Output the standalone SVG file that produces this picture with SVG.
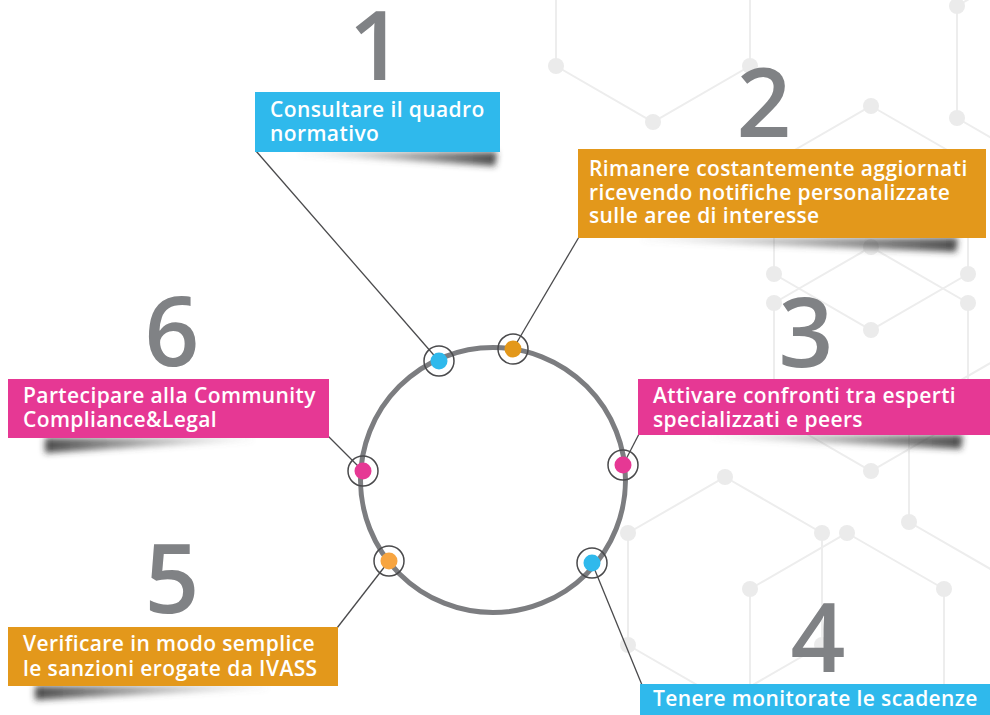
<svg xmlns="http://www.w3.org/2000/svg" width="990" height="715" viewBox="0 0 990 715">
<defs>
<style>
.hex{fill:none;stroke:#ededed;stroke-width:2}
.hd{fill:#ebebeb}
.lbl{font-family:"Open Sans","Liberation Sans",sans-serif;font-size:21px;font-weight:600;fill:#ffffff;letter-spacing:0.4px}
.num{font-family:"Open Sans","Liberation Sans",sans-serif;font-size:96px;font-weight:600;fill:#808285;text-anchor:middle}
.con{stroke:#4a4a4c;stroke-width:1.3;fill:none}
.ring{fill:none;stroke:#4a4a4c;stroke-width:1.5}
.blue{fill:#2fb9ec}
.orange{fill:#e3981b}
.pink{fill:#e63894}
.shadow{filter:url(#blur)}
</style>
<filter id="blur" x="-10%" y="-150%" width="120%" height="400%"><feGaussianBlur stdDeviation="3"/></filter>
<linearGradient id="shR" x1="0" y1="0" x2="1" y2="0"><stop offset="0" stop-color="#777" stop-opacity="0.1"/><stop offset="1" stop-color="#2a2a2a" stop-opacity="0.85"/></linearGradient>
<linearGradient id="shL" x1="1" y1="0" x2="0" y2="0"><stop offset="0" stop-color="#777" stop-opacity="0.1"/><stop offset="1" stop-color="#2a2a2a" stop-opacity="0.85"/></linearGradient>
</defs>
<rect width="990" height="715" fill="#ffffff"/>
<g id="background">
<polygon class="hex" points="653,-102 750,-46 750,66 653,122 556,66 556,-46"/>
<polygon class="hex" points="871,106 968,162 968,274 871,330 774,274 774,162"/>
<polygon class="hex" points="871,247 968,303 968,415 871,471 774,415 774,303"/>
<polygon class="hex" points="1006,354 1103,410 1103,522 1006,578 909,522 909,410"/>
<polygon class="hex" points="1054,-50 1151,6 1151,118 1054,174 957,118 957,6"/>
<polygon class="hex" points="725,477 822,533 822,645 725,701 628,645 628,533"/>
<polygon class="hex" points="847,533 944,589 944,701 847,757 750,701 750,589"/>
<g class="hd">
<circle cx="556" cy="66" r="8"/><circle cx="653" cy="122" r="8"/><circle cx="750" cy="66" r="8"/>
<circle cx="871" cy="106" r="8"/><circle cx="968" cy="162" r="8"/><circle cx="968" cy="274" r="8"/><circle cx="871" cy="330" r="8"/><circle cx="774" cy="274" r="8"/><circle cx="774" cy="162" r="8"/>
<circle cx="871" cy="247" r="8"/><circle cx="968" cy="303" r="8"/><circle cx="774" cy="303" r="8"/><circle cx="871" cy="471" r="8"/>
<circle cx="909" cy="522" r="8"/><circle cx="957" cy="6" r="8"/><circle cx="957" cy="118" r="8"/>
<circle cx="725" cy="477" r="8"/><circle cx="822" cy="533" r="8"/><circle cx="822" cy="645" r="8"/><circle cx="628" cy="533" r="8"/><circle cx="628" cy="645" r="8"/>
<circle cx="847" cy="533" r="8"/><circle cx="944" cy="589" r="8"/><circle cx="750" cy="589" r="8"/>
</g>
</g>
<g id="connectors">
<line class="con" x1="256" y1="151" x2="439" y2="361"/>
<line class="con" x1="579" y1="237" x2="513" y2="349"/>
<line class="con" x1="639" y1="434" x2="623" y2="465"/>
<line class="con" x1="592" y1="563" x2="642" y2="685"/>
<line class="con" x1="337" y1="628" x2="389" y2="561"/>
<line class="con" x1="327" y1="435" x2="363" y2="471"/>
</g>
<circle id="ring-main" cx="493" cy="480" r="132.5" fill="none" stroke="#7c7d80" stroke-width="5"/>
<g id="node1">
<text class="num" x="376" y="80">1</text>
<polygon class="shadow" fill="url(#shR)" points="300,152 497,152 495,166 300,154"/>
<rect class="blue" x="255" y="92" width="245" height="60"/>
<text class="lbl" x="270" y="117">Consultare il quadro</text>
<text class="lbl" x="270" y="141">normativo</text>
<circle class="ring" cx="439" cy="361" r="15"/>
<circle class="blue" cx="439" cy="361" r="8.5"/>
</g>
<g id="node2">
<text class="num" x="764" y="137">2</text>
<polygon class="shadow" fill="url(#shR)" points="643,238 958,238 956,252 643,240"/>
<rect class="orange" x="578" y="149" width="408" height="89"/>
<text class="lbl" x="589" y="176">Rimanere costantemente aggiornati</text>
<text class="lbl" x="589" y="200">ricevendo notifiche personalizzate</text>
<text class="lbl" x="589" y="223">sulle aree di interesse</text>
<circle class="ring" cx="513" cy="349" r="15"/>
<circle class="orange" cx="513" cy="349" r="8.5"/>
</g>
<g id="node3">
<text class="num" x="806" y="367">3</text>
<polygon class="shadow" fill="url(#shR)" points="712,435 963,435 961,449 712,437"/>
<rect class="pink" x="638" y="379" width="352" height="56"/>
<text class="lbl" x="653" y="403">Attivare confronti tra esperti</text>
<text class="lbl" x="653" y="427">specializzati e peers</text>
<circle class="ring" cx="623" cy="465" r="15"/>
<circle class="pink" cx="623" cy="465" r="8.5"/>
</g>
<g id="node4">
<text class="num" x="818" y="672">4</text>
<rect class="blue" x="640" y="684" width="350" height="31"/>
<text class="lbl" x="653" y="706">Tenere monitorate le scadenze</text>
<circle class="ring" cx="592" cy="563" r="15"/>
<circle class="blue" cx="592" cy="563" r="8.5"/>
</g>
<g id="node5">
<text class="num" x="172" y="613">5</text>
<polygon class="shadow" fill="url(#shL)" points="35,686 267,686 267,688 35,700"/>
<rect class="orange" x="8" y="627" width="330" height="59"/>
<text class="lbl" x="23" y="651">Verificare in modo semplice</text>
<text class="lbl" x="23" y="676">le sanzioni erogate da IVASS</text>
<circle class="ring" cx="389" cy="561" r="15"/>
<circle cx="389" cy="561" r="8.5" fill="#f7a541"/>
</g>
<g id="node6">
<text class="num" x="172" y="366">6</text>
<polygon class="shadow" fill="url(#shL)" points="45,438 252,438 252,440 45,453"/>
<rect class="pink" x="8" y="379" width="321" height="59"/>
<text class="lbl" x="23" y="403">Partecipare alla Community</text>
<text class="lbl" x="23" y="427">Compliance&amp;Legal</text>
<circle class="ring" cx="363" cy="471" r="15"/>
<circle class="pink" cx="363" cy="471" r="8.5"/>
</g>
</svg>
